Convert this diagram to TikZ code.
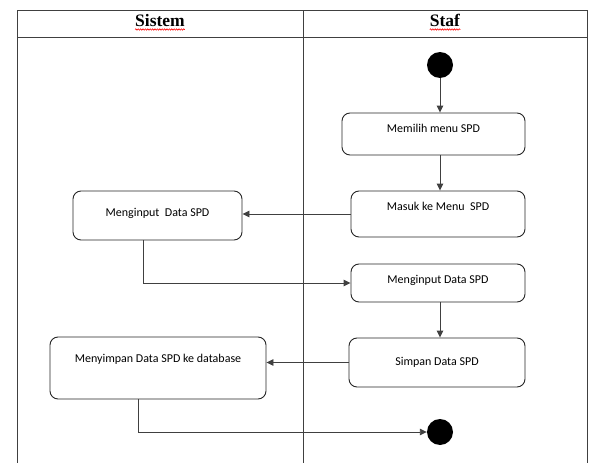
\documentclass[tikz,border=0pt]{standalone}
\usepackage{fontspec}
\setmainfont{Carlito}
\newfontfamily\headfont{Liberation Serif}
\usetikzlibrary{positioning, arrows.meta, calc, decorations.pathmorphing}

\begin{document}
\begin{tikzpicture}[x=1pt, y=-1pt,
        act/.style={draw=black!85, rounded corners=8pt, line width=0.9pt,
            font=\fontsize{12}{14}\selectfont, text height=9pt, text depth=3pt, inner sep=0pt},
        dot/.style={circle, fill=black, minimum size=26pt, inner sep=0pt},
        lane/.style={draw=black!75, line width=1pt},
        conn/.style={draw=black!75, line width=0.9pt},
        head/.style={font=\headfont\bfseries\fontsize{17.5}{20}\selectfont, anchor=base, inner sep=0pt},
        wavy/.style={red, line width=0.6pt, decorate, decoration={snake, amplitude=0.7pt, segment length=2.4pt}},
        >={Triangle[length=7pt, width=6.5pt]}]
        \useasboundingbox (0,0) rectangle (590,463);

        % lanes
        \draw[lane] (17,463) -- (17,10) -- (587,10) -- (587,463);
        \draw[lane] (17,37) -- (587,37);
        \draw[lane] (303,10) -- (303,463);
        \node[head] (h1) at (160,27) {Sistem};
        \node[head] (h2) at (445,27) {Staf};
        \draw[wavy] ([yshift=-2.5pt]h1.base west) -- ([yshift=-2.5pt]h1.base east);
        \draw[wavy] ([yshift=-2.5pt]h2.base west) -- ([yshift=-2.5pt]h2.base east);

        \node[dot] (0) at (440,65) {};
        \node[act, minimum width=183pt, minimum height=42pt, text depth=13pt] (1) at (433.5,134) {Memilih menu SPD};
        \node[act, minimum width=174pt, minimum height=46pt, text depth=17pt] (2) at (438,214) {Masuk ke Menu\ \ SPD};
        \node[act, minimum width=169pt, minimum height=49pt, text depth=8pt] (3) at (157.5,215.5) {Menginput\ \ Data SPD};
        \node[act, minimum width=174pt, minimum height=38pt, text depth=9pt] (4) at (438,283) {Menginput Data SPD};
        \node[act, minimum width=176pt, minimum height=49pt] (5) at (437,362.5) {Simpan Data SPD};
        \node[act, minimum width=216pt, minimum height=62pt, text depth=21pt] (6) at (158,368) {Menyimpan Data SPD ke database};
        \node[dot] (7) at (440,432) {};

        \path[every edge/.style={conn, ->}]
        (0) edge (0 |- 1.north)
        (1.south -| 0) edge (2.north -| 0)
        (2.west) edge (2.west -| 3.east)
        (4.south -| 0) edge (5.north -| 0)
        (5.west) edge (5.west -| 6.east)
        ;
        \draw[->, conn] ([xshift=-14.5pt]3.south) |- (4.west);
        \draw[->, conn] ([xshift=-20pt]6.south) |- (7);
    \end{tikzpicture}
\end{document}
